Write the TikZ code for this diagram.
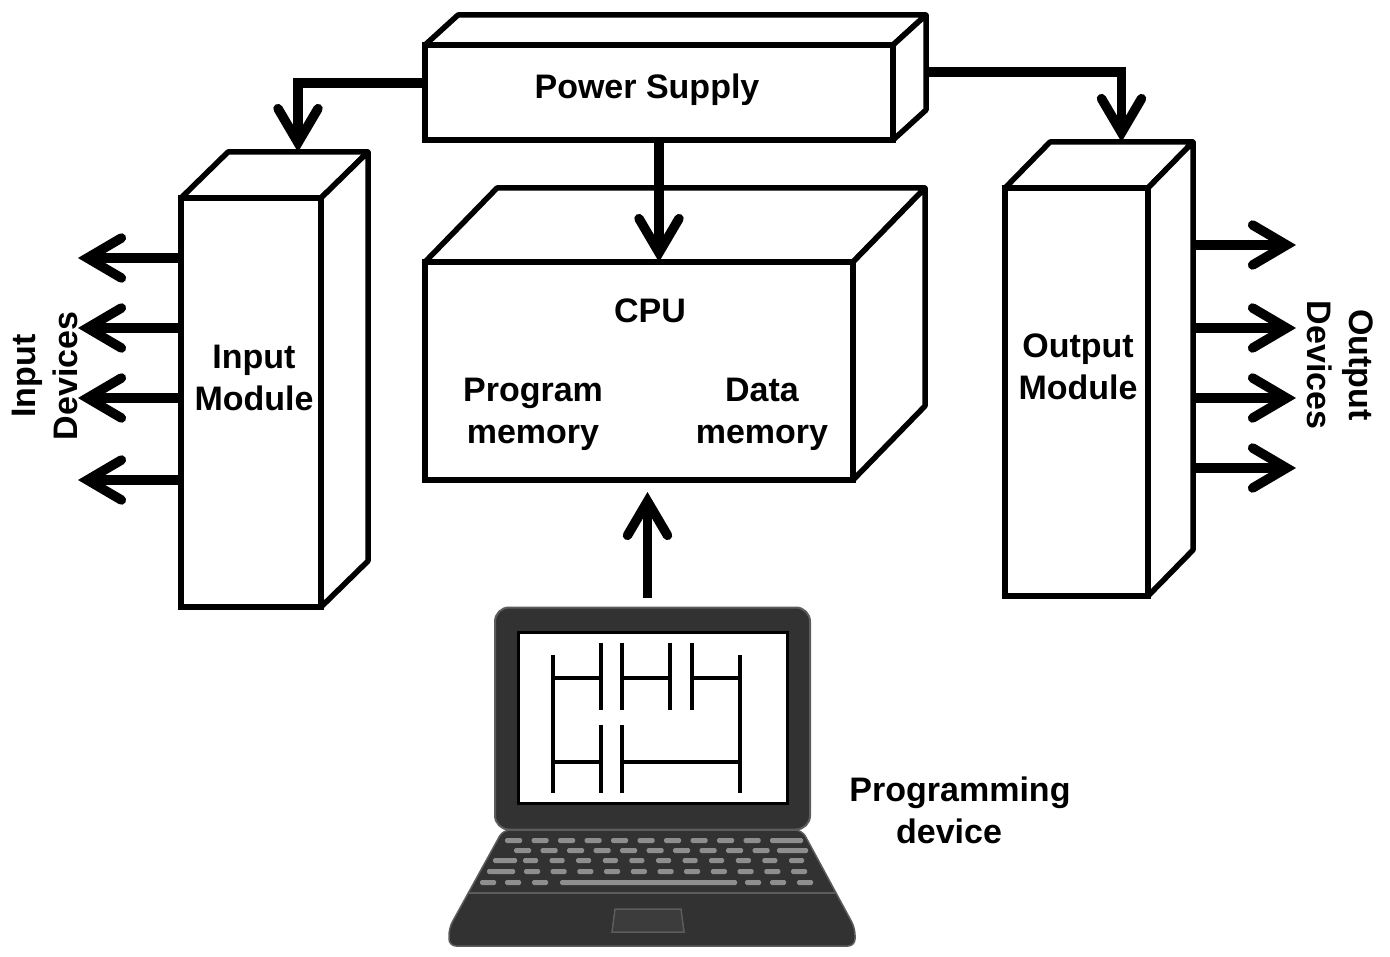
\documentclass[tikz,border=0pt]{standalone}
\usepackage{fontspec}
\setmainfont{Liberation Sans}
\usetikzlibrary{arrows.meta,calc}
\definecolor{lapdark}{HTML}{323232}
\definecolor{lapedge}{HTML}{5C5C5C}
\definecolor{lapmid}{HTML}{3C3C3C}
\definecolor{keygray}{HTML}{8E8E8E}
% front face is a node; top and right faces are drawn from its corners
\newcommand\solidbox[3]{%
  \draw[side] (#1.north west) -- ++(#2,-#3) coordinate (#1-bl)
    -- ($(#1.north east)+(#2,-#3)$) coordinate (#1-br) -- (#1.north east) -- cycle;
  \draw[side] (#1.north east) -- (#1-br)
    -- ($(#1.south east)+(#2,-#3)$) coordinate (#1-brb) -- (#1.south east) -- cycle;
}
\begin{document}
\begin{tikzpicture}[x=1pt,y=-1pt,
  box/.style={draw, line width=5.5pt, fill=white, inner sep=0pt, outer sep=0pt},
  side/.style={draw, line width=5.5pt, fill=white, line join=round},
  lbl/.style={font=\fontsize{34}{42}\selectfont\bfseries, align=center, inner sep=0pt},
  arr/.style={line width=9.5pt,
    -{Straight Barb[length=34pt,width=40pt,line cap=round,line join=miter]}},
  key/.style={fill=keygray, rounded corners=1.5pt},
  ladder/.style={line width=4pt, black}]
\useasboundingbox (0,0) rectangle (1390,957);

% ---- blocks ----
\node[box, minimum width=468pt, minimum height=95pt] (ps) at (659,92.5) {};
\solidbox{ps}{33}{30}
\node[box, minimum width=140pt, minimum height=409pt] (in) at (251,402.5) {};
\solidbox{in}{47}{46}
\node[box, minimum width=428pt, minimum height=218pt] (cpu) at (639,371) {};
\solidbox{cpu}{72}{74}
\node[box, minimum width=143pt, minimum height=408pt] (out) at (1076.5,392) {};
\solidbox{out}{45}{46}

% ---- labels ----
\node[lbl] (psl) at (647,90) {Power Supply};
\node[lbl] (inl) at (254,378) {Input\\Module};
\node[lbl] (cpul) at (650,311) {CPU};
\node[lbl] (pm) at (533,414) {Program\\memory};
\node[lbl] (dm) at (762,414) {Data\\memory};
\node[lbl] (outl) at (1078,367) {Output\\Module};
\node[lbl, rotate=90] (idl) at (45,376) {Input\\Devices};
\node[lbl, rotate=-90] (odl) at (1340,365) {Output\\Devices};
\node[lbl] (pdl) at (960,810) {Programming\\\hspace*{-22pt}device};

% ---- laptop ----
\filldraw[fill=lapdark, draw=lapedge, line width=1.5pt, rounded corners=7pt]
  (503,830) -- (802,830) -- (855,928) -- (855,946) -- (449,946) -- (449,928) -- cycle;
\draw[lapedge, line width=2pt] (469,893) -- (835,893);
\filldraw[fill=lapmid, draw=lapedge, line width=1.5pt]
  (615,909) -- (681,909) -- (684,932) -- (612,932) -- cycle;
% keyboard
\foreach \k in {0,...,9} \fill[key] (505+26.5*\k,838) rectangle ++(17,5);
\fill[key] (770,838) rectangle (803,843);
\foreach \k in {0,...,9} \fill[key] (514+26.5*\k,848) rectangle ++(17,5);
\fill[key] (777,848) rectangle (808,853);
\fill[key] (493,858) rectangle (517,863);
\foreach \k in {0,...,10} \fill[key] (523+26.6*\k,858) rectangle ++(15,5);
\fill[key] (487,869) rectangle (515,874);
\foreach \k in {0,...,10} \fill[key] (524+26.7*\k,869) rectangle ++(16,5);
\foreach \xx in {480,505,532,745,770,797} \fill[key] (\xx,880) rectangle ++(16,5);
\fill[key] (560,880) rectangle (737,885);
% screen
\node[draw=lapedge, fill=lapdark, line width=2pt, rounded corners=14pt,
  minimum width=315pt, minimum height=222pt, inner sep=0pt, outer sep=0pt] (lap) at (652.5,718.5) {};
\node[draw=black, fill=white, line width=3pt, minimum width=269pt, minimum height=171pt,
  inner sep=0pt] (scr) at (652.5,717.5) {};
% ladder diagram on the screen
\draw[ladder] (553,655) -- (553,793) (740,655) -- (740,793);
\draw[ladder] (553,678) -- (601,678) (601,643) -- (601,710) (622,643) -- (622,710)
  (622,678) -- (670,678) (670,643) -- (670,710) (692,643) -- (692,710) (692,678) -- (740,678);
\draw[ladder] (553,762) -- (601,762) (601,725) -- (601,793) (622,725) -- (622,793)
  (622,762) -- (740,762);

% ---- connectors ----
\draw[arr] ($(ps.north west)!0.4!(ps.south west)$) -| ($(in-bl)!0.5!(in-br)$);
\draw[arr] ($(ps-br)!0.6!(ps-brb)$) -| ($(out-bl)!0.5!(out-br)$);
\draw[arr] (ps.south) -- (ps.south |- cpu.north);
\draw[arr] ($(lap.north)+(-5,-10)$) -- ($(lap.north |- cpu.south)+(-5,12)$);
\foreach \y [count=\i] in {258,328,398,480} {
  \coordinate (id\i) at (78,\y);
  \draw[arr] (in.west |- id\i) -- (id\i);
}
\foreach \y [count=\i] in {245,328,398,468} {
  \coordinate (od\i) at (1296,\y);
  \draw[arr] (out-br |- od\i) -- (od\i);
}
\end{tikzpicture}
\end{document}
